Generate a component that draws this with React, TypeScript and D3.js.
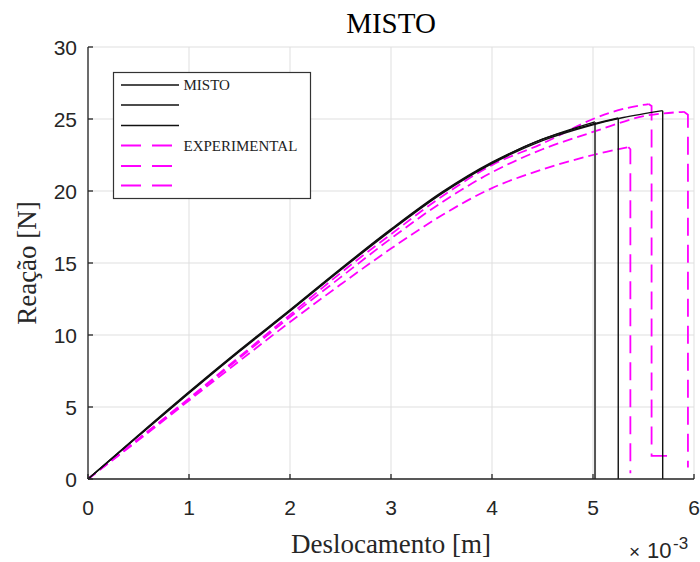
import React from "react";
import * as d3 from "d3";

const xTicks = [0, 1, 2, 3, 4, 5, 6];
const yTicks = [0, 5, 10, 15, 20, 25, 30];

// MISTO (numerical) curves: [x (x1e-3 m), y (N)]
const misto1: [number, number][] = [[0,0],[0.5,3.05],[1,6.05],[1.5,8.95],[2,11.75],[2.5,14.6],[3,17.35],[3.5,19.9],[4,22.0],[4.5,23.6],[5.02,24.8]];
const misto1Drop: [number, number][] = [[5.02,24.8],[5.02,0]];
const misto2: [number, number][] = [[0,0],[0.5,3.0],[1,6.0],[1.5,8.9],[2,11.7],[2.5,14.55],[3,17.3],[3.5,19.85],[4,21.95],[4.5,23.6],[5,24.65],[5.25,25.07]];
const misto2Drop: [number, number][] = [[5.25,25.07],[5.25,0]];
const misto3: [number, number][] = [[0,0],[0.5,2.98],[1,5.95],[1.5,8.85],[2,11.65],[2.5,14.5],[3,17.25],[3.5,19.8],[4,21.9],[4.5,23.5],[5,24.6],[5.3,25.1],[5.69,25.58]];
const misto3Drop: [number, number][] = [[5.69,25.58],[5.69,0]];

// EXPERIMENTAL curves
const expA: [number, number][] = [[0,0],[0.5,2.8],[1,5.6],[1.5,8.5],[2,11.4],[2.5,14.3],[3,17.0],[3.5,19.6],[4,21.8],[4.5,23.3],[5,25.0],[5.3,25.7],[5.55,26.04]];
const expADrop: [number, number][] = [[5.55,26.04],[5.58,25.9],[5.58,1.6],[5.74,1.6]];
const expB: [number, number][] = [[0,0],[0.5,2.7],[1,5.45],[1.5,8.2],[2,10.9],[2.5,13.5],[3,16.0],[3.5,18.3],[4,20.2],[4.5,21.5],[5,22.5],[5.35,23.05]];
const expBDrop: [number, number][] = [[5.35,23.05],[5.37,22.9],[5.37,0.4]];
const expC: [number, number][] = [[0,0],[0.5,2.75],[1,5.55],[1.5,8.4],[2,11.25],[2.5,14.0],[3,16.7],[3.5,19.2],[4,21.3],[4.5,22.9],[5,24.1],[5.5,25.2],[5.9,25.5]];
const expCDrop: [number, number][] = [[5.9,25.5],[5.94,25.3],[5.94,0.8]];

const legendLabels = ["MISTO", "", "", "EXPERIMENTAL", "", ""];

const W = 700, H = 562;
const L = 88, R = 694, T = 47, B = 479;

export default function App() {
  const x = d3.scaleLinear().domain([0, 6]).range([L, R]);
  const y = d3.scaleLinear().domain([0, 30]).range([B, T]);
  const curve = d3.line<[number, number]>().x(d => x(d[0])).y(d => y(d[1])).curve(d3.curveCatmullRom.alpha(0.5));
  const lin = d3.line<[number, number]>().x(d => x(d[0])).y(d => y(d[1]));
  const axisColor = "#262626";
  const gridColor = "#dfdfdf";
  const mag = "#ff00ff";
  const sans = "Liberation Sans, Arial, sans-serif";
  const serif = "Liberation Serif, Times New Roman, serif";

  const blacks = [[misto1, misto1Drop], [misto2, misto2Drop], [misto3, misto3Drop]];
  const exps = [[expA, expADrop], [expB, expBDrop], [expC, expCDrop]];

  const legX = 113.5, legY = 72.5, legW = 197, legH = 126;
  const rowY = [85, 105, 125.5, 145.5, 166, 185.5];

  return (
    <svg width={W} height={H} style={{ position: "absolute", left: 0, top: 0 }}>
      <rect width={W} height={H} fill="#fff" />
      {/* grid */}
      {xTicks.map(t => (
        <line key={"gx" + t} x1={x(t)} x2={x(t)} y1={B} y2={T} stroke={gridColor} strokeWidth={1} />
      ))}
      {yTicks.map(t => (
        <line key={"gy" + t} x1={L} x2={R} y1={y(t)} y2={y(t)} stroke={gridColor} strokeWidth={1} />
      ))}
      {/* experimental */}
      {exps.map(([c, d], i) => (
        <g key={"e" + i} fill="none" stroke={mag} strokeWidth={1.8}>
          <path d={curve(c) || ""} strokeDasharray="10,5" />
          <path d={lin(d) || ""} strokeDasharray="18,9" />
        </g>
      ))}
      {/* misto */}
      {blacks.map(([c, d], i) => (
        <g key={"m" + i} fill="none" stroke={i === 0 ? "#555" : "#111"} strokeWidth={i === 0 ? 2 : 1.4}>
          <path d={curve(c) || ""} stroke="#111" strokeWidth={1.4} />
          <path d={lin(d) || ""} />
        </g>
      ))}
      {/* axes */}
      <line x1={L} x2={L} y1={T} y2={B} stroke={axisColor} strokeWidth={1.3} />
      <line x1={L} x2={R} y1={B} y2={B} stroke={axisColor} strokeWidth={1.3} />
      {xTicks.map(t => (
        <g key={"xt" + t}>
          <line x1={x(t)} x2={x(t)} y1={B} y2={B - 5} stroke={axisColor} strokeWidth={1.3} />
          <text x={x(t)} y={515} textAnchor="middle" fontFamily={sans} fontSize={21} fill={axisColor}>{t}</text>
        </g>
      ))}
      {yTicks.map(t => (
        <g key={"yt" + t}>
          <line x1={L} x2={L + 5} y1={y(t)} y2={y(t)} stroke={axisColor} strokeWidth={1.3} />
          <text x={77} y={y(t) + 7.5} textAnchor="end" fontFamily={sans} fontSize={21} fill={axisColor}>{t}</text>
        </g>
      ))}
      {/* exponent */}
      <text x={629} y={558} fontFamily={sans} fontSize={19} fill={axisColor}>×</text>
      <text x={647} y={558} fontFamily={sans} fontSize={22} fill={axisColor}>10</text>
      <text x={673} y={549} fontFamily={sans} fontSize={17} fill={axisColor}>-3</text>
      {/* titles */}
      <text x={391} y={33} textAnchor="middle" fontFamily={serif} fontSize={29} fill="#000">MISTO</text>
      <text x={391} y={553} textAnchor="middle" fontFamily={serif} fontSize={27} fill={axisColor}>Deslocamento [m]</text>
      <text transform={`translate(36,263) rotate(-90)`} textAnchor="middle" fontFamily={serif} fontSize={27} fill={axisColor}>Reação [N]</text>
      {/* legend */}
      <rect x={legX} y={legY} width={legW} height={legH} fill="#fff" stroke="#333" strokeWidth={1.2} />
      {legendLabels.map((lab, i) => (
        <g key={"l" + i}>
          <line x1={121} x2={179} y1={rowY[i]} y2={rowY[i]} stroke={i < 3 ? "#111" : mag} strokeWidth={i < 3 ? 1.5 : 1.8} strokeDasharray={i < 3 ? undefined : "20,11"} />
          {lab && <text x={183.5} y={rowY[i] + 5} fontFamily={serif} fontSize={15} fill="#222">{lab}</text>}
        </g>
      ))}
    </svg>
  );
}
